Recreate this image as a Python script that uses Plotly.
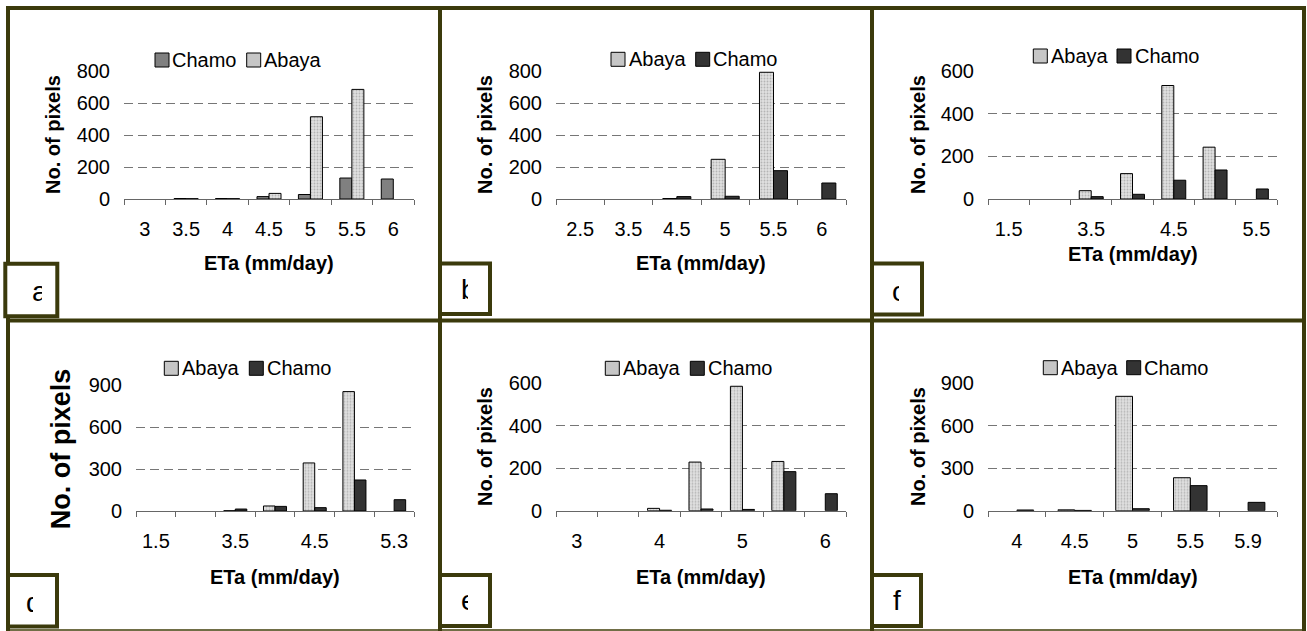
import numpy as np
import plotly.graph_objects as go

W, H = 1307, 631

# ---------------- data ----------------
a_cats = ["3", "3.5", "4", "4.5", "5", "5.5", "6"]
a_chamo = [0, 3, 3, 15, 28, 131, 125]
a_abaya = [0, 2, 2, 35, 514, 685, 0]

b_cats = ["2.5", "3.5", "4.5", "5", "5.5", "6"]
b_abaya = [0, 0, 3, 248, 792, 0]
b_chamo = [0, 0, 15, 17, 177, 100]

c_cats = ["1.5", "2.5", "3.5", "4", "4.5", "5", "5.5"]
c_abaya = [0, 0, 39, 119, 532, 243, 0]
c_chamo = [0, 0, 11, 22, 88, 136, 47]

d_cats = ["1.5", "2.5", "3.5", "4", "4.5", "5", "5.3"]
d_abaya = [0, 0, 2, 36, 344, 855, 0]
d_chamo = [0, 0, 14, 33, 24, 222, 81]

e_cats = ["3", "3.5", "4", "4.5", "5", "5.5", "6"]
e_abaya = [0, 0, 11, 229, 586, 232, 0]
e_chamo = [0, 0, 2, 8, 6, 184, 80]

f_cats = ["4", "4.5", "5", "5.5", "5.9"]
f_abaya = [0, 6, 808, 233, 0]
f_chamo = [5, 2, 14, 177, 59]

panel_letters = ["a", "b", "c", "d", "e", "f"]
x_title = "ETa (mm/day)"
y_title = "No. of pixels"

# ---------------- styles ----------------
FONT = "Arial, Liberation Sans, sans-serif"
FRAME = "#3b3a0c"
ABAYA_BG = "#e0e0e0"
ABAYA_FG = "#8a8a8a"
ABAYA_LEG = "#c6c6c6"
GRID = "#767676"
AXIS = "#666666"


def fx(p):
    return p / W


def fy(p):
    return 1 - p / H


panels = [
    dict(cats=a_cats, series=[("Chamo", a_chamo), ("Abaya", a_abaya)], chamo="#808080",
         ymax=800, dtick=200, step=1, box=(124, 414, 71, 199),
         ytx=53, yts=20, xty=263, leg=[155, 246.7], legy=60,
         lbox=(5.3, 263.7, 57.3, 316.3), let=(31, 10, 292)),
    dict(cats=b_cats, series=[("Abaya", b_abaya), ("Chamo", b_chamo)], chamo="#333333",
         ymax=800, dtick=200, step=1, box=(556, 846, 71, 199),
         ytx=485, yts=20, xty=263, leg=[611, 695.7], legy=59.3,
         lbox=(440, 263.5, 490, 314), let=(460, 7, 289)),
    dict(cats=c_cats, series=[("Abaya", c_abaya), ("Chamo", c_chamo)], chamo="#333333",
         ymax=600, dtick=200, step=2, box=(988, 1277, 71, 199),
         ytx=918, yts=20, xty=254, leg=[1033.3, 1117], legy=56,
         lbox=(872, 263.5, 922, 314.5), let=(891, 7, 291)),
    dict(cats=d_cats, series=[("Abaya", d_abaya), ("Chamo", d_chamo)], chamo="#333333",
         ymax=900, dtick=300, step=2, box=(136, 414, 385.3, 511),
         ytx=61, yts=27, xty=577, leg=[164.3, 249.3], legy=368.3,
         lbox=(8, 575, 57, 626.5), let=(25, 7, 602)),
    dict(cats=e_cats, series=[("Abaya", e_abaya), ("Chamo", e_chamo)], chamo="#333333",
         ymax=600, dtick=200, step=2, box=(556, 846, 383.3, 510.7),
         ytx=485, yts=20, xty=577, leg=[605.3, 690.3], legy=368.3,
         lbox=(440, 575, 490, 626), let=(460, 7, 600)),
    dict(cats=f_cats, series=[("Abaya", f_abaya), ("Chamo", f_chamo)], chamo="#333333",
         ymax=900, dtick=300, step=1, box=(988, 1277, 383.3, 510.7),
         ytx=918, yts=20, xty=577, leg=[1043.3, 1126.7], legy=367.7,
         lbox=(872, 575, 921, 626), let=None),
]

fig = go.Figure()
shapes = []
annotations = []
layout_axes = {}

for i, p in enumerate(panels):
    n = len(p["cats"])
    idx = np.arange(n)
    sfx = "" if i == 0 else str(i + 1)
    xref, yref = "x" + sfx, "y" + sfx
    for name, vals in p["series"]:
        if name == "Abaya":
            marker = dict(color=ABAYA_BG, line=dict(color="#000000", width=1),
                          pattern=dict(shape=".", size=3, solidity=0.3,
                                       fgcolor=ABAYA_FG, bgcolor=ABAYA_BG))
        else:
            marker = dict(color=p["chamo"], line=dict(color="#000000", width=1))
        yv = [v if v > 0 else None for v in vals]  # empty bins draw nothing
        fig.add_trace(go.Bar(x=idx, y=yv, name=name, marker=marker,
                             xaxis=xref, yaxis=yref, showlegend=False))
    x0, x1, y0, y1 = p["box"]
    shown = list(idx[::p["step"]])
    layout_axes["xaxis" + sfx] = dict(
        domain=[fx(x0), fx(x1)], anchor=yref, range=[-0.5, n - 0.5],
        tickmode="array", tickvals=shown,
        ticktext=[p["cats"][k] for k in shown],
        ticks="", showline=True, linecolor=AXIS, linewidth=1,
        showgrid=False, zeroline=False, fixedrange=True, automargin=False,
        tickfont=dict(family=FONT, size=20, color="#000"),
        ticklabelstandoff=12,
        minor=dict(tickmode="array", tickvals=list(np.arange(n + 1) - 0.5),
                   ticks="outside", ticklen=5, tickwidth=1, tickcolor=AXIS,
                   showgrid=False),
    )
    layout_axes["yaxis" + sfx] = dict(
        domain=[fy(y1), fy(y0)], anchor=xref, range=[0, p["ymax"]],
        tickmode="linear", tick0=0, dtick=p["dtick"],
        ticks="", showline=False, zeroline=False, automargin=False,
        showgrid=True, gridcolor=GRID, gridwidth=1, griddash="9px,5px",
        tickfont=dict(family=FONT, size=20, color="#000"),
        ticklabelstandoff=13, fixedrange=True,
    )
    # axis titles
    annotations.append(dict(text="<b>%s</b>" % x_title, x=fx((x0 + x1) / 2), y=fy(p["xty"]),
                            xref="paper", yref="paper", xanchor="center", yanchor="middle",
                            showarrow=False, font=dict(family=FONT, size=20, color="#000")))
    annotations.append(dict(text="<b>%s</b>" % y_title, x=fx(p["ytx"]), y=fy((y0 + y1) / 2),
                            xref="paper", yref="paper", xanchor="center", yanchor="middle",
                            textangle=-90, showarrow=False,
                            font=dict(family=FONT, size=p["yts"], color="#000")))
    # legend (drawn manually)
    for (name, _), lx in zip(p["series"], p["leg"]):
        col = ABAYA_LEG if name == "Abaya" else p["chamo"]
        ly = p["legy"]
        shapes.append(dict(type="rect", xref="paper", yref="paper",
                           x0=fx(lx), x1=fx(lx + 14), y0=fy(ly + 7), y1=fy(ly - 7),
                           fillcolor=col, line=dict(color="#000", width=1), layer="above"))
        annotations.append(dict(text=name, x=fx(lx + 15.5), y=fy(ly), xref="paper", yref="paper",
                                xanchor="left", yanchor="middle", showarrow=False,
                                font=dict(family=FONT, size=20, color="#000")))
    # panel letter box
    bx0, by0, bx1, by1 = p["lbox"]
    shapes.append(dict(type="rect", xref="paper", yref="paper",
                       x0=fx(bx0), x1=fx(bx1), y0=fy(by1), y1=fy(by0),
                       fillcolor="white", line=dict(color=FRAME, width=4), layer="above"))
    if p["let"] is None:
        annotations.append(dict(text=panel_letters[i], x=fx((bx0 + bx1) / 2), y=fy(600),
                                xref="paper", yref="paper", xanchor="center", yanchor="middle",
                                showarrow=False, font=dict(family=FONT, size=28, color="#000")))
    else:
        lx, lw, ly = p["let"]
        annotations.append(dict(text=panel_letters[i], x=fx(lx), y=fy(ly), width=lw,
                                align="left", xref="paper", yref="paper", xanchor="left",
                                yanchor="middle", showarrow=False, borderpad=0,
                                font=dict(family=FONT, size=28, color="#000")))

# frame lines
def line(xa, ya, xb, yb, w=4, c=FRAME):
    shapes.insert(0, dict(type="line", xref="paper", yref="paper",
                          x0=fx(xa), y0=fy(ya), x1=fx(xb), y1=fy(yb),
                          line=dict(color=c, width=w), layer="above"))

line(6, 8, 1306, 8)
line(8, 6, 8, 631)
line(1304, 6, 1304, 631)
line(440, 6, 440, 631)
line(872, 6, 872, 631)
line(6, 320.5, 1306, 320.5)
line(6, 630, 1306, 630, w=2, c="#706e46")

fig.update_layout(
    width=W, height=H, margin=dict(l=0, r=0, t=0, b=0, autoexpand=False),
    paper_bgcolor="white", plot_bgcolor="white",
    barmode="group", bargap=0.42, bargroupgap=0,
    showlegend=False, shapes=shapes, annotations=annotations,
    font=dict(family=FONT, color="#000"),
    **layout_axes,
)

fig.write_html("out.html")
